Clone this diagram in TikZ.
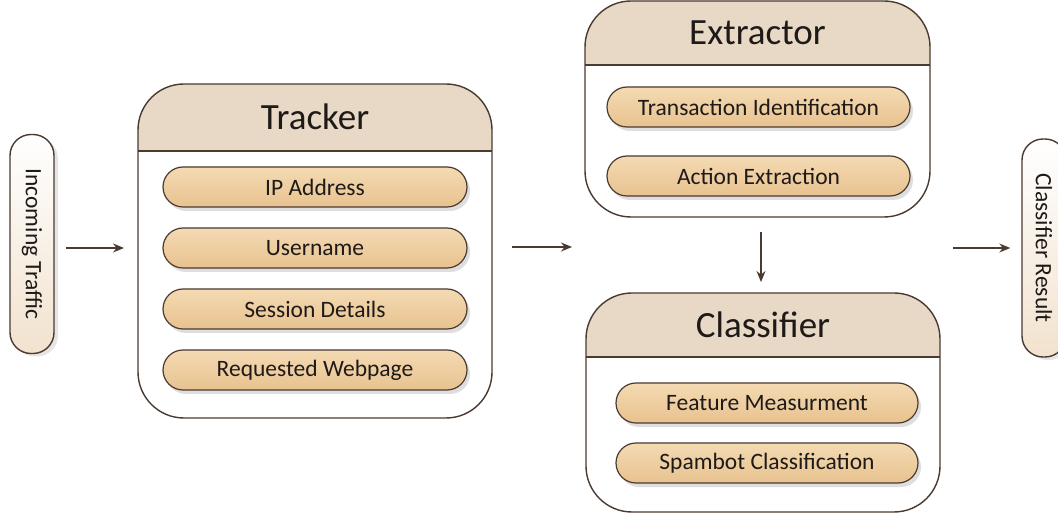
\documentclass[tikz,border=0pt]{standalone}
\usepackage{fontspec}
\setmainfont{Carlito}
\usetikzlibrary{arrows.meta,shadows,calc}

\definecolor{edgebrown}{HTML}{4A3A30}
\definecolor{headfill}{HTML}{E8D8C6}
\definecolor{pilltop}{HTML}{F4DAB3}
\definecolor{pillbot}{HTML}{E8C28F}
\definecolor{sidebot}{HTML}{F2E2CE}
\definecolor{inktext}{HTML}{1E1A18}

\tikzset{
  stage/.style n args={3}{draw=edgebrown, line width=1.4pt, fill=white,
    rounded corners=46pt, minimum width=#1, minimum height=#2,
    inner sep=0pt, outer sep=0pt,
    path picture={
      \fill[headfill, sharp corners] (path picture bounding box.north west)
        rectangle ([yshift=-#3]path picture bounding box.north east);
      \draw[edgebrown, line width=1.4pt, sharp corners]
        ([yshift=-#3]path picture bounding box.north west)
        -- ([yshift=-#3]path picture bounding box.north east);
    }},
  stagetitle/.style={text=inktext, font=\fontsize{37}{40}\selectfont,
    inner sep=0pt},
  item/.style={draw=edgebrown, line width=1.2pt, rounded corners=20pt,
    top color=pilltop, bottom color=pillbot,
    minimum width=#1, minimum height=40pt, inner sep=0pt,
    text=inktext, font=\fontsize{23.5}{26}\selectfont,
    drop shadow={shadow xshift=3pt, shadow yshift=-4pt,
      fill=black!13, opacity=1}},
  side/.style={draw=edgebrown, line width=1.4pt, rounded corners=21pt,
    top color=white, bottom color=sidebot,
    minimum width=44pt, minimum height=#1, inner sep=0pt,
    drop shadow={shadow xshift=4pt, shadow yshift=-3pt,
      fill=black!10, opacity=1}},
  sidetext/.style={text=inktext, font=\fontsize{23.5}{26}\selectfont,
    rotate=-90, inner sep=0pt},
  flow/.style={draw=edgebrown, line width=1.3pt,
    -{Stealth[length=11pt, width=9pt]}}
}

\begin{document}
\begin{tikzpicture}[x=1pt, y=-1pt]
  \useasboundingbox (0,0) rectangle (1058,518);

  % input and output
  \node[side=219pt] (inc) at (32,244) {};
  \node[sidetext] at (inc.center) {Incoming Traffic};
  \node[side=218pt] (res) at (1044,248) {};
  \node[sidetext] at (res.center) {Classifier Result};

  % tracker stage
  \node[stage={354pt}{334pt}{67pt}] (trk) at (315,251) {};
  \node[stagetitle] (trkt) at (315,117) {Tracker};
  \node[item=304pt] (ip)   at (315,187) {IP Address};
  \node[item=304pt] (usr)  at (315,248) {Username};
  \node[item=304pt] (ses)  at (315,309) {Session Details};
  \node[item=304pt] (page) at (315,370) {Requested Webpage};

  % extractor stage
  \node[stage={345pt}{216pt}{64pt}] (ext) at (757.5,109) {};
  \node[stagetitle] (extt) at (757.5,33) {Extractor};
  \node[item=303pt] (tid) at (758.5,107) {Transaction Identification};
  \node[item=303pt] (act) at (758.5,176) {Action Extraction};

  % classifier stage
  \node[stage={354pt}{219pt}{64pt}] (cls) at (763,402.5) {};
  \node[stagetitle] (clst) at (763,325) {Classifier};
  \node[item=302pt] (feat) at (767,403) {Feature Measurment};
  \node[item=302pt] (spam) at (767,463) {Spambot Classification};

  % connectors
  \coordinate (gap) at (585,247);
  \draw[flow, shorten <=11pt, shorten >=14pt] (inc.east |- 0,248) -- (trk.west |- 0,248);
  \draw[flow, shorten <=20pt, shorten >=13pt] (trk.east |- gap) -- (gap);
  \draw[flow, shorten <=15pt, shorten >=11pt] (ext.south -| 761,0) -- (cls.north -| 761,0);
  \draw[flow, shorten <=13pt, shorten >=11pt] (cls.east |- res.west) -- (res.west);
\end{tikzpicture}
\end{document}
